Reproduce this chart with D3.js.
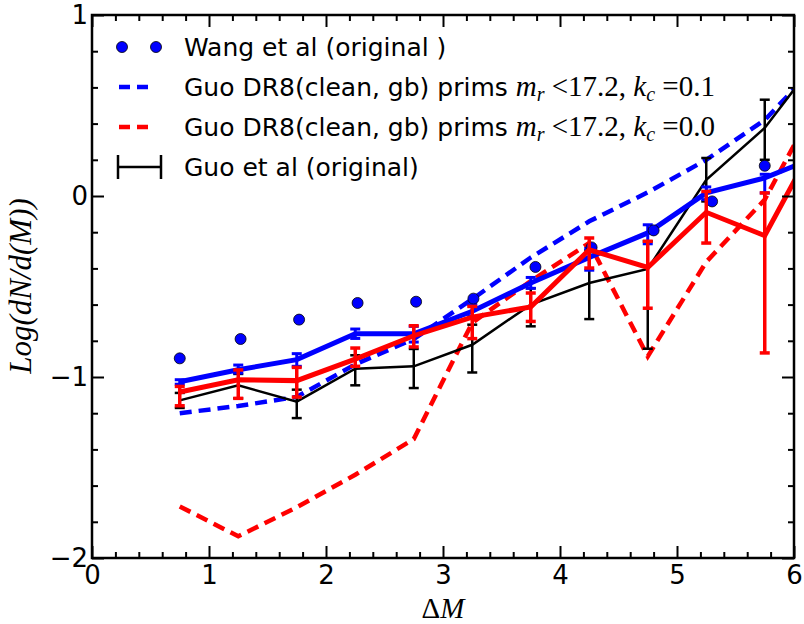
<!DOCTYPE html>
<html><head><meta charset="utf-8">
<script src="https://cdn.jsdelivr.net/npm/d3@7/dist/d3.min.js"></script>
<style>body{margin:0;background:#fff}svg{display:block}</style>
</head><body>
<svg id="c" width="804" height="624"></svg>
<script>
// ---- data ----
const xBins = [0.75,1.25,1.75,2.25,2.75,3.25,3.75,4.25,4.75,5.25,5.75,6.25];
const wangX = [0.75,1.27,1.77,2.27,2.77,3.26,3.79,4.27,4.8,5.3,5.75];
const wangY = [-0.897,-0.79,-0.683,-0.591,-0.584,-0.567,-0.392,-0.284,-0.19,-0.03,0.167];
const blueDash = [-1.20,-1.16,-1.11,-0.93,-0.79,-0.57,-0.34,-0.14,0.02,0.20,0.42,0.76];
const redDash = [-1.715,-1.88,-1.72,-1.54,-1.343,-0.70,-0.47,-0.26,-0.886,-0.364,-0.02,0.58];
const blueSolid = [-1.026,-0.96,-0.904,-0.761,-0.761,-0.637,-0.481,-0.339,-0.204,0.017,0.10,0.23];
const blueLo = [-1.04,-0.978,-0.941,-0.787,-0.807,-0.665,-0.51,-0.41,-0.264,-0.02,0.017];
const blueHi = [-1.015,-0.934,-0.871,-0.735,-0.72,-0.60,-0.45,-0.29,-0.159,0.05,0.12];
const redSolid = [-1.083,-1.015,-1.020,-0.901,-0.772,-0.669,-0.613,-0.297,-0.395,-0.09,-0.219,0.38];
const redLo = [-1.159,-1.118,-1.111,-0.941,-0.834,-0.788,-0.693,-0.398,-0.62,-0.26,-0.867];
const redHi = [-1.052,-0.961,-0.947,-0.84,-0.717,-0.61,-0.536,-0.232,-0.25,0.025,0.017];
const blackLine = [-1.129,-1.046,-1.136,-0.954,-0.941,-0.822,-0.60,-0.481,-0.403,0.09,0.376,0.80];
const blackLo = [-1.171,-1.118,-1.227,-1.046,-1.061,-0.975,-0.72,-0.68,-0.844,-0.03,0.2];
const blackHi = [-1.088,-0.983,-1.07,-0.88,-0.845,-0.711,-0.51,-0.30,-0.25,0.21,0.532];
const xTicks = [0,1,2,3,4,5,6];
const yTicks = [-2,-1,0,1];

// ---- layout ----
const svg = d3.select("#c");
const X0=92, X1=794, Y0=15, Y1=558;
const x = d3.scaleLinear().domain([0,6]).range([X0,X1]);
const y = d3.scaleLinear().domain([-2,1]).range([Y1,Y0]);
const sans = "DejaVu Sans, sans-serif";
const serif = "Liberation Serif, DejaVu Serif, serif";

svg.append("clipPath").attr("id","clip").append("rect")
  .attr("x",X0).attr("y",Y0).attr("width",X1-X0).attr("height",Y1-Y0);
const plot = svg.append("g").attr("clip-path","url(#clip)");

const line = (xs, ys) => d3.line().x((d,i)=>x(xs[i])).y(d=>y(d))(ys);

function errorbars(xs, lo, hi, color, w, cap){
  const g = plot.append("g").attr("stroke",color).attr("stroke-width",w);
  lo.forEach((l,i)=>{
    g.append("line").attr("x1",x(xs[i])).attr("x2",x(xs[i])).attr("y1",y(l)).attr("y2",y(hi[i]));
    [l,hi[i]].forEach(v=>g.append("line").attr("x1",x(xs[i])-cap).attr("x2",x(xs[i])+cap)
      .attr("y1",y(v)).attr("y2",y(v)));
  });
}

// dashed lines
plot.append("path").attr("d",line(xBins,blueDash)).attr("fill","none")
  .attr("stroke","#0000ff").attr("stroke-width",4.5).attr("stroke-dasharray","12,7");
plot.append("path").attr("d",line(xBins,redDash)).attr("fill","none")
  .attr("stroke","#ff0000").attr("stroke-width",4.5).attr("stroke-dasharray","12,7");
// black
plot.append("path").attr("d",line(xBins,blackLine)).attr("fill","none")
  .attr("stroke","#000").attr("stroke-width",2.5);
errorbars(xBins,blackLo,blackHi,"#000",2.5,5);
// blue solid
plot.append("path").attr("d",line(xBins,blueSolid)).attr("fill","none")
  .attr("stroke","#0000ff").attr("stroke-width",5);
errorbars(xBins,blueLo,blueHi,"#0000ff",3,5);
// Wang dots
plot.append("g").selectAll("circle").data(wangY).join("circle")
  .attr("cx",(d,i)=>x(wangX[i])).attr("cy",d=>y(d)).attr("r",5.5)
  .attr("fill","#0000ff").attr("stroke","#000").attr("stroke-width",0.8);
// red solid
plot.append("path").attr("d",line(xBins,redSolid)).attr("fill","none")
  .attr("stroke","#ff0000").attr("stroke-width",5);
errorbars(xBins,redLo,redHi,"#ff0000",3.5,5);

// ---- axes ----
const minorX = d3.range(0,6.001,0.2).filter(v=>Math.abs(v-Math.round(v))>1e-6);
const minorY = d3.range(-2,1.001,0.2).filter(v=>Math.abs(v-Math.round(v))>1e-6);
function styleAxis(g){
  g.select(".domain").remove();
  g.selectAll(".tick line").attr("stroke","#000").attr("stroke-width",2);
  g.selectAll("text").attr("font-family",sans).attr("font-size",26).attr("fill","#000");
}
const fmt = d3.format("d");
svg.append("g").attr("transform",`translate(0,${Y1})`)
  .call(d3.axisBottom(x).tickValues(xTicks).tickSize(-12).tickPadding(8).tickFormat(fmt)).call(styleAxis);
svg.append("g").attr("transform",`translate(0,${Y1})`)
  .call(d3.axisBottom(x).tickValues(minorX).tickSize(-6).tickFormat("")).call(styleAxis);
svg.append("g").attr("transform",`translate(0,${Y0})`)
  .call(d3.axisTop(x).tickValues(xTicks).tickSize(-12).tickFormat("")).call(styleAxis);
svg.append("g").attr("transform",`translate(0,${Y0})`)
  .call(d3.axisTop(x).tickValues(minorX).tickSize(-6).tickFormat("")).call(styleAxis);
svg.append("g").attr("transform",`translate(${X0},0)`)
  .call(d3.axisLeft(y).tickValues(yTicks).tickSize(-12).tickPadding(4).tickFormat(fmt)).call(styleAxis);
svg.append("g").attr("transform",`translate(${X0},0)`)
  .call(d3.axisLeft(y).tickValues(minorY).tickSize(-6).tickFormat("")).call(styleAxis);
svg.append("g").attr("transform",`translate(${X1},0)`)
  .call(d3.axisRight(y).tickValues(yTicks).tickSize(-12).tickFormat("")).call(styleAxis);
svg.append("g").attr("transform",`translate(${X1},0)`)
  .call(d3.axisRight(y).tickValues(minorY).tickSize(-6).tickFormat("")).call(styleAxis);
svg.append("rect").attr("x",X0).attr("y",Y0).attr("width",X1-X0).attr("height",Y1-Y0)
  .attr("fill","none").attr("stroke","#000").attr("stroke-width",2.5);

// axis labels
svg.append("text").attr("x",(X0+X1)/2).attr("y",618).attr("text-anchor","middle")
  .attr("font-family",serif).attr("font-size",29)
  .call(t=>{t.append("tspan").text("Δ");t.append("tspan").attr("font-style","italic").text("M");});
svg.append("text").attr("transform","translate(31,286) rotate(-90)").attr("text-anchor","middle")
  .attr("font-family",serif).attr("font-size",31).attr("font-style","italic").text("Log(dN/d(M))");

// ---- legend ----
const leg = svg.append("g");
const rows = [47,87,127,167];
leg.selectAll("circle.l").data([122,156]).join("circle").attr("cx",d=>d).attr("cy",rows[0]).attr("r",5.5)
  .attr("fill","#0000ff").attr("stroke","#000").attr("stroke-width",0.8);
leg.append("line").attr("x1",119).attr("x2",152).attr("y1",rows[1]).attr("y2",rows[1])
  .attr("stroke","#0000ff").attr("stroke-width",4.5).attr("stroke-dasharray","11,7");
leg.append("line").attr("x1",119).attr("x2",152).attr("y1",rows[2]).attr("y2",rows[2])
  .attr("stroke","#ff0000").attr("stroke-width",4.5).attr("stroke-dasharray","11,7");
leg.append("line").attr("x1",118).attr("x2",161).attr("y1",rows[3]).attr("y2",rows[3])
  .attr("stroke","#000").attr("stroke-width",2.5);
[118,161].forEach(cx=>leg.append("line").attr("x1",cx).attr("x2",cx).attr("y1",rows[3]-12).attr("y2",rows[3]+12)
  .attr("stroke","#000").attr("stroke-width",2.5));

const fs = 25;
leg.append("text").attr("x",184).attr("y",rows[0]+9).attr("font-family",sans).attr("font-size",fs).text("Wang et al (original )");
["0.1","0.0"].forEach((k,i)=>{
  const t = leg.append("text").attr("x",184).attr("y",rows[i+1]+9).attr("font-family",sans).attr("font-size",fs);
  t.append("tspan").text("Guo DR8(clean, gb) prims ");
  t.append("tspan").attr("font-family",serif).attr("font-style","italic").attr("font-size",29).text("m");
  t.append("tspan").attr("font-family",serif).attr("font-style","italic").attr("font-size",20).attr("dy",5).text("r");
  t.append("tspan").attr("font-family",serif).attr("font-size",29).attr("dy",-5).text(" <17.2, ");
  t.append("tspan").attr("font-family",serif).attr("font-style","italic").attr("font-size",29).text("k");
  t.append("tspan").attr("font-family",serif).attr("font-style","italic").attr("font-size",20).attr("dy",5).text("c");
  t.append("tspan").attr("font-family",serif).attr("font-size",29).attr("dy",-5).text(" =" + k);
});
leg.append("text").attr("x",184).attr("y",rows[3]+9).attr("font-family",sans).attr("font-size",fs).text("Guo et al (original)");
</script>
</body></html>
